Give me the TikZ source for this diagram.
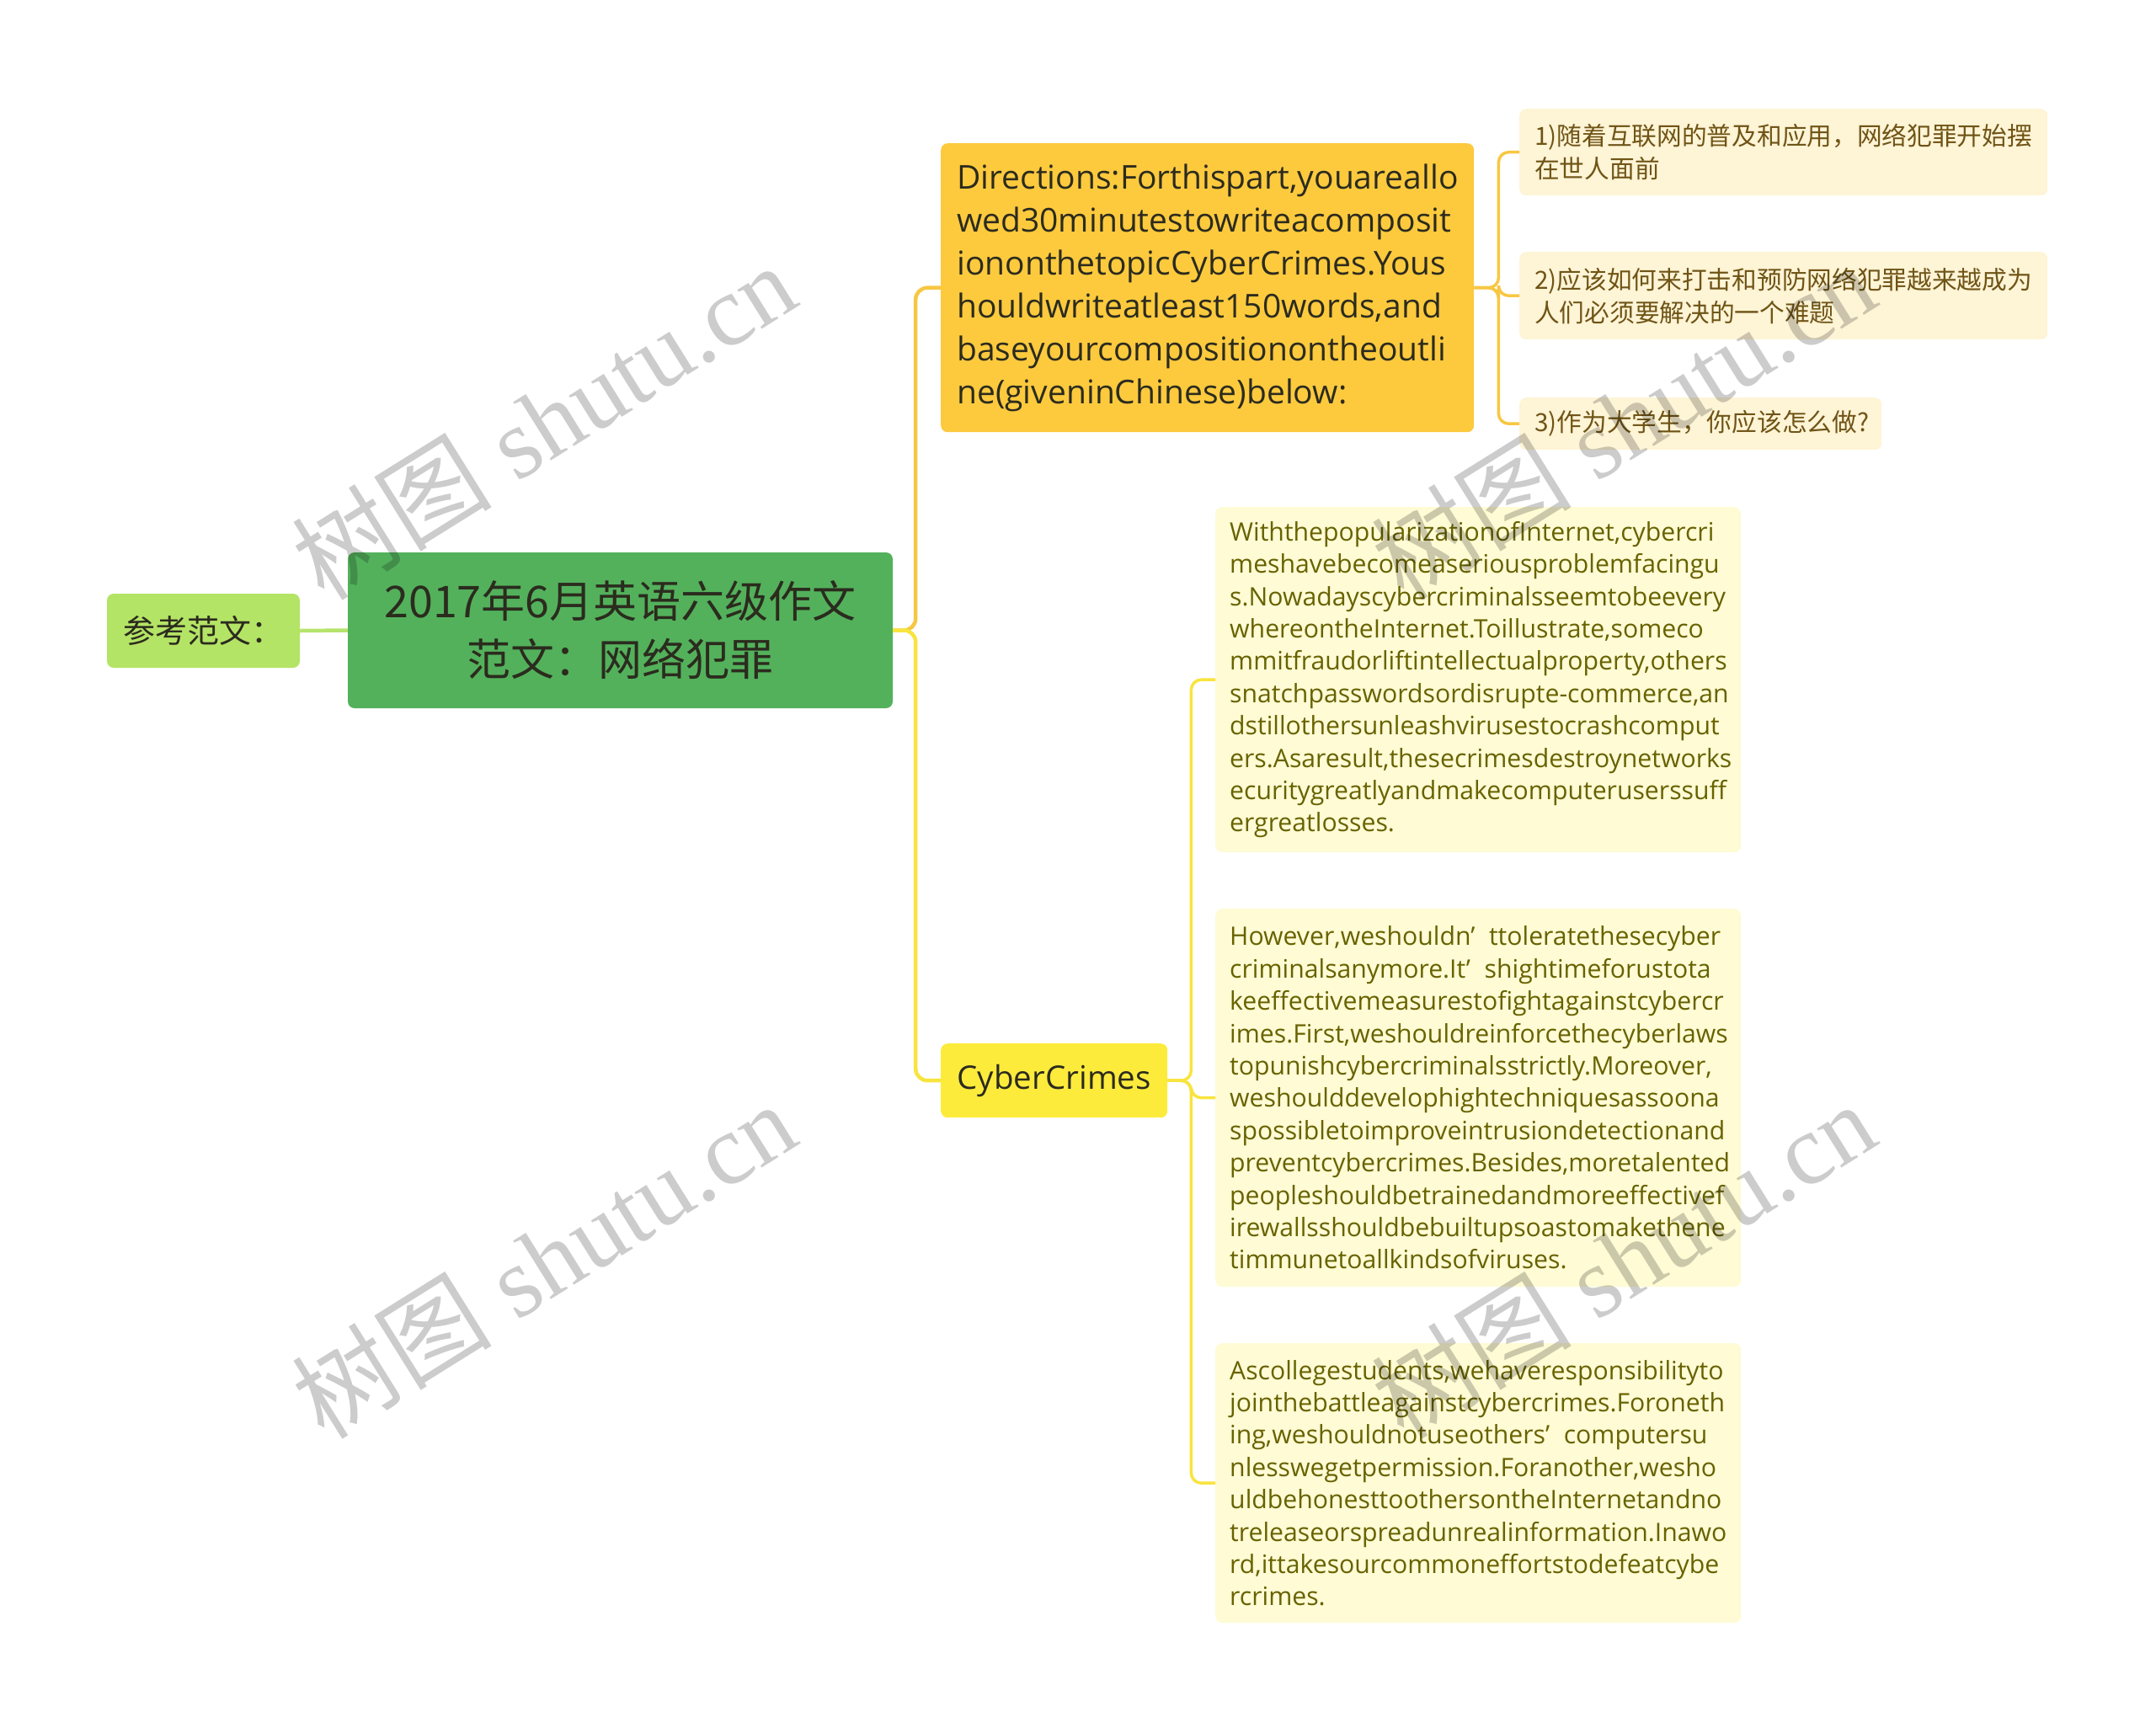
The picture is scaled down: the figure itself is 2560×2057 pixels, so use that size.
\documentclass[tikz,border=0pt]{standalone}
\usepackage{fontspec}
\usepackage{xcolor}
\usepackage{tikz}
\usetikzlibrary{positioning}
\setmainfont{Open Sans}
\newfontfamily\cjk{Noto Sans CJK SC}
\newfontfamily\wmserif{Liberation Serif}
\definecolor{rootgreen}{HTML}{53B15C}
\definecolor{refgreen}{HTML}{B4E465}
\definecolor{dirorange}{HTML}{FDCA3E}
\definecolor{crimeyellow}{HTML}{FDEB3C}
\definecolor{hintfill}{HTML}{FEF4D6}
\definecolor{parafill}{HTML}{FEFBD5}
\definecolor{hinttext}{HTML}{6F5416}
\definecolor{paratext}{HTML}{686200}
\definecolor{darktext}{HTML}{2B2B1E}
\definecolor{orangeline}{HTML}{F7C744}
\definecolor{yellowline}{HTML}{F8E43E}
\definecolor{greenline}{HTML}{B6E36C}
\newcommand{\fwq}{’\hspace{0.55em}}

\begin{document}
\begin{tikzpicture}[x=1pt,y=-1pt,
    box/.style={rounded corners=8pt, inner ysep=0pt},
    leafbox/.style={box, anchor=north west, align=left, inner xsep=17pt},
    refbox/.style={box, fill=refgreen, text=darktext, minimum width=229pt, minimum height=88pt,
        font=\cjk\fontsize{38}{44}\selectfont},
    rootbox/.style={box, fill=rootgreen, text=darktext, minimum width=647pt, minimum height=185pt,
        align=center, font=\cjk\fontsize{52}{69}\selectfont},
    dirbox/.style={leafbox, fill=dirorange, text=darktext, inner xsep=19pt,
        minimum width=633pt, minimum height=343pt, text width=595pt,
        font=\fontsize{39}{51}\selectfont},
    crimebox/.style={box, anchor=north west, fill=crimeyellow, text=darktext,
        minimum width=269pt, minimum height=88pt, font=\fontsize{38.5}{46}\selectfont},
    hintbox/.style={leafbox, fill=hintfill, text=hinttext, inner xsep=18pt,
        font=\cjk\fontsize{29.7}{39}\selectfont},
    parabox/.style={leafbox, fill=parafill, text=paratext, minimum width=624pt, text width=590pt,
        font=\fontsize{30.2}{38.4}\selectfont},
    link/.style={line width=4.5pt, rounded corners=14pt},
    sublink/.style={line width=3.5pt, rounded corners=12pt},
    watermark/.style={text=black, text opacity=0.2, rotate=32, font=\fontsize{119}{119}\selectfont}
  ]
  \useasboundingbox (0,0) rectangle (2560,2057);

  % main nodes
  \node[refbox] (ref) at (241.5,749) {参考范文：};
  \node[rootbox] (root) at (736.5,748.5) {2017年6月英语六级作文\\范文：网络犯罪};

  \node[dirbox] (dir) at (1117,170) {Directions:Forthispart,youareallo\\wed30minutestowriteacomposit\\iononthetopicCyberCrimes.Yous\\houldwriteatleast150words,and\\baseyourcompositionontheoutli\\ne(giveninChinese)below:};
  \node[crimebox] (crime) at (1117,1239) {CyberCrimes};

  % outline points
  \node[hintbox, minimum width=627pt, minimum height=103pt, text width=591pt] (hintA) at (1804,129)
      {1)随着互联网的普及和应用，网络犯罪开始摆\\在世人面前};
  \node[hintbox, minimum width=627pt, minimum height=104pt, text width=591pt] (hintB) at (1804,299)
      {2)应该如何来打击和预防网络犯罪越来越成为\\人们必须要解决的一个难题};
  \node[hintbox, minimum width=430pt, minimum height=62pt, text width=394pt] (hintC) at (1804,472)
      {3)作为大学生，你应该怎么做?};

  % essay paragraphs
  \node[parabox, minimum height=410pt] (paraA) at (1443,602)
      {WiththepopularizationofInternet,cybercri\\meshavebecomeaseriousproblemfacingu\\s.Nowadayscybercriminalsseemtobeevery\\whereontheInternet.Toillustrate,someco\\mmitfraudorliftintellectualproperty,others\\\mbox{snatchpasswordsordisrupte-commerce,an}\\dstillothersunleashvirusestocrashcomput\\ers.Asaresult,thesecrimesdestroynetworks\\ecuritygreatlyandmakecomputeruserssuff\\ergreatlosses.};
  \node[parabox, minimum height=449pt] (paraB) at (1443,1079)
      {However,weshouldn\fwq ttoleratethesecyber\\criminalsanymore.It\fwq shightimeforustota\\keeffectivemeasurestofightagainstcybercr\\imes.First,weshouldreinforcethecyberlaws\\topunishcybercriminalsstrictly.Moreover,\\weshoulddevelophightechniquesassoona\\spossibletoimproveintrusiondetectionand\\preventcybercrimes.Besides,moretalented\\peopleshouldbetrainedandmoreeffectivef\\irewallsshouldbebuiltupsoastomakethene\\timmunetoallkindsofviruses.};
  \node[parabox, minimum height=332pt] (paraC) at (1443,1595)
      {Ascollegestudents,wehaveresponsibilityto\\jointhebattleagainstcybercrimes.Foroneth\\ing,weshouldnotuseothers\fwq computersu\\nlesswegetpermission.Foranother,wesho\\uldbehonesttoothersontheInternetandno\\treleaseorspreadunrealinformation.Inawo\\rd,ittakesourcommoneffortstodefeatcybe\\rcrimes.};

  % connectors
  \draw[link, greenline] (ref.east) -- (root.west);
  \draw[link, orangeline] (root.east) -- ++(27,0) |- (dir.west);
  \draw[link, yellowline] (root.east) -- ++(27,0) |- (crime.west);
  \foreach \n in {hintA,hintB,hintC}
    \draw[sublink, orangeline] (dir.east) -- ++(29,0) |- (\n.west);
  \foreach \n in {paraA,paraB,paraC}
    \draw[sublink, yellowline] (crime.east) -- ++(28,0) |- (\n.west);

  % watermarks
  \node[watermark] (wm1) at (645,500) {{\cjk 树图} {\wmserif shutu.cn}};
  \node[watermark] (wm2) at (1927,500) {{\cjk 树图} {\wmserif shutu.cn}};
  \node[watermark] (wm3) at (645,1496) {{\cjk 树图} {\wmserif shutu.cn}};
  \node[watermark] (wm4) at (1927,1496) {{\cjk 树图} {\wmserif shutu.cn}};
\end{tikzpicture}
\end{document}
